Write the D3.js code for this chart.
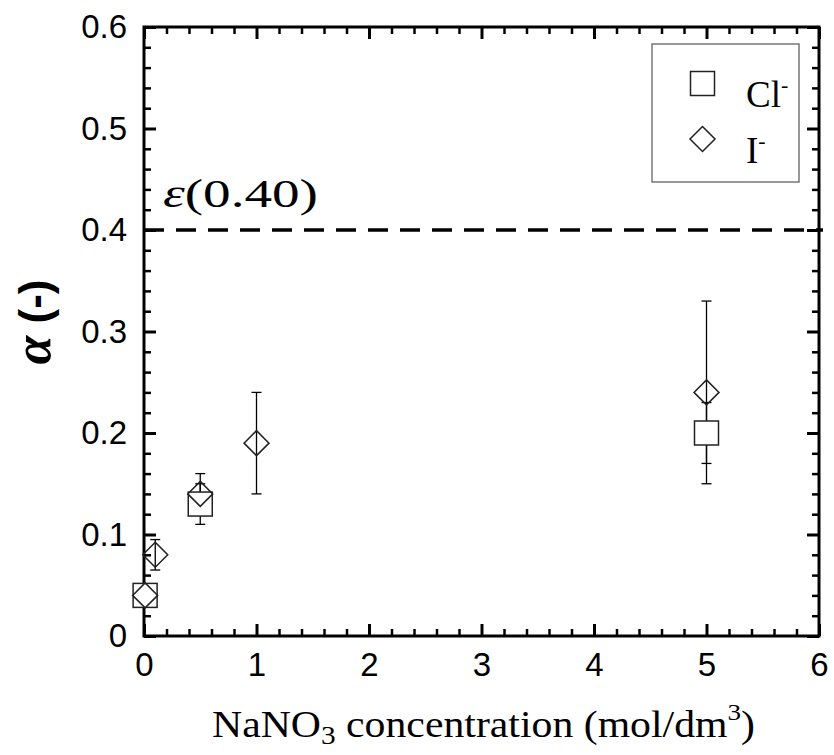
<!DOCTYPE html>
<html><head><meta charset="utf-8">
<script src="https://cdn.jsdelivr.net/npm/d3@7"></script>
<style>body{margin:0;background:#fff}svg{display:block}</style>
</head><body>
<svg id="c" width="834" height="755"></svg>
<script>
// Data
const clX = [0.01, 0.5, 5];
const clY = [0.04, 0.13, 0.20];
const clErr = [0.01, 0.02, 0.03];
const iX = [0.01, 0.1, 0.5, 1, 5];
const iY = [0.04, 0.08, 0.14, 0.19, 0.24];
const iErr = [0.01, 0.015, 0.02, 0.05, 0.09];
const xTicks = [0, 1, 2, 3, 4, 5, 6];
const yTicks = [0, 0.1, 0.2, 0.3, 0.4, 0.5, 0.6];
const epsilon = 0.40;

const svg = d3.select("#c");
const L = 144, R = 819, T = 27, B = 636;
const x = d3.scaleLinear().domain([0, 6]).range([L, R]);
const y = d3.scaleLinear().domain([0, 0.6]).range([B, T]);
const yFmt = d => d === 0 ? "0" : d3.format(".1f")(d);
const sans = "Liberation Sans, Arial, sans-serif";
const serif = "Liberation Serif, Times New Roman, serif";

const minorX = d3.range(0, 6.001, 0.2).filter(v => Math.abs(v - Math.round(v)) > 1e-6);
const minorY = d3.range(0, 0.6001, 0.02).filter(v => Math.abs(v*10 - Math.round(v*10)) > 1e-6);

function styleAxis(g) {
  g.select(".domain").remove();
  g.selectAll(".tick line").attr("stroke", "#000").attr("stroke-width", 3);
}
svg.append("g").attr("transform", `translate(0,${B})`)
  .call(d3.axisBottom(x).tickValues(xTicks).tickSize(-12).tickPadding(17).tickFormat(d3.format("d")))
  .call(styleAxis)
  .selectAll("text").attr("font-family", sans).attr("font-size", 33).attr("fill", "#000");
svg.append("g").attr("transform", `translate(${L},0)`)
  .call(d3.axisLeft(y).tickValues(yTicks).tickSize(-12).tickPadding(17).tickFormat(yFmt))
  .call(styleAxis)
  .selectAll("text").attr("font-family", sans).attr("font-size", 33).attr("fill", "#000");
svg.append("g").attr("transform", `translate(0,${T})`)
  .call(d3.axisTop(x).tickValues(xTicks).tickSize(-12).tickFormat(""))
  .call(styleAxis);
svg.append("g").attr("transform", `translate(${R},0)`)
  .call(d3.axisRight(y).tickValues(yTicks).tickSize(-12).tickFormat(""))
  .call(styleAxis);
[[d3.axisBottom(x), `translate(0,${B})`, minorX], [d3.axisTop(x), `translate(0,${T})`, minorX],
 [d3.axisLeft(y), `translate(${L},0)`, minorY], [d3.axisRight(y), `translate(${R},0)`, minorY]]
 .forEach(([ax, tr, vals]) => {
  svg.append("g").attr("transform", tr)
    .call(ax.tickValues(vals).tickSize(-7).tickFormat(""))
    .call(g => { g.select(".domain").remove(); g.selectAll(".tick line").attr("stroke", "#000").attr("stroke-width", 2.5); });
 });
svg.append("rect").attr("x", L).attr("y", T).attr("width", R - L).attr("height", B - T)
  .attr("fill", "none").attr("stroke", "#000").attr("stroke-width", 3);

// dashed epsilon line
svg.append("line").attr("x1", L).attr("x2", R + 4).attr("y1", y(epsilon)).attr("y2", y(epsilon))
  .attr("stroke", "#000").attr("stroke-width", 3.5).attr("stroke-dasharray", "20,12");
const et = svg.append("text").attr("x", 163).attr("y", 207)
  .attr("font-family", serif).attr("font-size", 39).attr("fill", "#000")
  .attr("textLength", 155).attr("lengthAdjust", "spacingAndGlyphs");
et.append("tspan").attr("font-style", "italic").text("ε");
et.append("tspan").text("(" + epsilon.toFixed(2) + ")");

// error bars
function errorBars(xs, ys, es) {
  const g = svg.append("g").attr("stroke", "#000").attr("stroke-width", 1.3);
  xs.forEach((xv, i) => {
    const cx = x(xv), y1 = y(ys[i] - es[i]), y2 = y(ys[i] + es[i]);
    g.append("line").attr("x1", cx).attr("x2", cx).attr("y1", y1).attr("y2", y2);
    g.append("line").attr("x1", cx - 5).attr("x2", cx + 5).attr("y1", y1).attr("y2", y1);
    g.append("line").attr("x1", cx - 5).attr("x2", cx + 5).attr("y1", y2).attr("y2", y2);
  });
}
errorBars(clX, clY, clErr);
errorBars(iX, iY, iErr);

const sq = 24, dm = 12.5;
function square(g, cx, cy) {
  g.append("rect").attr("x", cx - sq/2).attr("y", cy - sq/2).attr("width", sq).attr("height", sq)
    .attr("fill", "#fff").attr("stroke", "#222").attr("stroke-width", 1.5);
}
function diamond(g, cx, cy, fill) {
  g.append("path").attr("d", `M${cx},${cy - dm}L${cx + dm},${cy}L${cx},${cy + dm}L${cx - dm},${cy}Z`)
    .attr("fill", fill).attr("stroke", "#222").attr("stroke-width", 1.5);
}
const gCl = svg.append("g");
clX.forEach((xv, i) => square(gCl, x(xv), y(clY[i])));
const gI = svg.append("g");
iX.forEach((xv, i) => diamond(gI, x(xv), y(iY[i]), "none"));

// legend
const lg = svg.append("g");
lg.append("rect").attr("x", 652).attr("y", 44).attr("width", 147).attr("height", 138)
  .attr("fill", "none").attr("stroke", "#777").attr("stroke-width", 1.5);
square(lg, 702.5, 83.5);
diamond(lg, 702.5, 139, "#fff");
const t1 = lg.append("text").attr("x", 746).attr("y", 107).attr("font-family", serif).attr("font-size", 37).attr("fill", "#000");
t1.append("tspan").text("Cl");
t1.append("tspan").attr("dy", -15).attr("font-size", 22).text("-");
const t2 = lg.append("text").attr("x", 746).attr("y", 163).attr("font-family", serif).attr("font-size", 37).attr("fill", "#000");
t2.append("tspan").text("I");
t2.append("tspan").attr("dy", -15).attr("font-size", 22).text("-");

// axis titles
const xt = svg.append("text").attr("x", 212).attr("y", 737)
  .attr("font-family", serif).attr("font-size", 37).attr("fill", "#000")
  .attr("textLength", 543).attr("lengthAdjust", "spacingAndGlyphs");
xt.append("tspan").text("NaNO");
xt.append("tspan").attr("dy", 7).attr("font-size", 26).text("3");
xt.append("tspan").attr("dy", -7).text(" concentration (mol/dm");
xt.append("tspan").attr("dy", -17).attr("font-size", 24).text("3");
xt.append("tspan").attr("dy", 17).text(")");

const yt = svg.append("text").attr("transform", "translate(50,322) rotate(-90)").attr("text-anchor", "middle")
  .attr("fill", "#000");
yt.append("tspan").attr("font-family", serif).attr("font-style", "italic").attr("font-weight", "bold").attr("font-size", 52).text("α");
yt.append("tspan").attr("font-family", sans).attr("font-weight", "bold").attr("font-size", 44).text(" (-)");
</script>
</body></html>
